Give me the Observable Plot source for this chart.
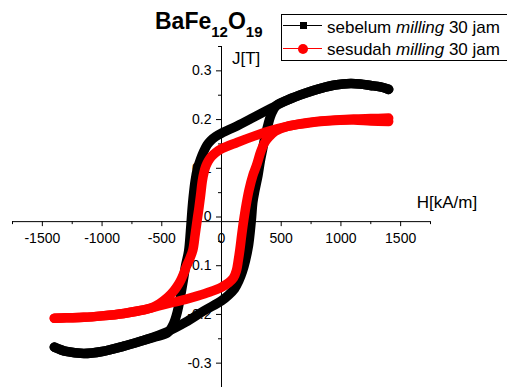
<!DOCTYPE html>
<html><head><meta charset="utf-8">
<script src="https://cdn.jsdelivr.net/npm/d3@7"></script>
<script src="https://cdn.jsdelivr.net/npm/@observablehq/plot@0.6"></script>
<style>
html,body{margin:0;padding:0;background:#fff;}
body{width:507px;height:387px;overflow:hidden;position:relative;font-family:Arial,"Liberation Sans",sans-serif;color:#000;}
#chart{position:absolute;left:0;top:0;}
.ov{position:absolute;white-space:nowrap;font-size:17px;line-height:17px;}
#title{position:absolute;left:155px;top:9.7px;font-size:23px;line-height:22px;font-weight:700;white-space:nowrap;}
#title span{font-size:15px;position:relative;top:8px;}
#legend{position:absolute;left:281px;top:14px;width:240px;height:47px;box-sizing:border-box;border:1px solid #000;background:#fff;}
.lline{position:absolute;height:1px;}
</style></head><body>
<div id="chart"></div>
<div id="title">BaFe<span>12</span>O<span>19</span></div>
<div id="legend"></div>
<div class="lline" style="left:283px;top:24.5px;width:39px;background:#000"></div>
<div style="position:absolute;left:299.5px;top:21.5px;width:7px;height:7px;background:#000"></div>
<div class="lline" style="left:283px;top:48px;width:39px;background:#f00"></div>
<div style="position:absolute;left:298px;top:43.5px;width:10px;height:10px;border-radius:50%;background:#f00"></div>
<div class="ov" id="leg1" style="left:327px;top:18.9px"></div>
<div class="ov" id="leg2" style="left:327px;top:40.6px"></div>
<div class="ov" id="ylab" style="left:232px;top:49.6px"></div>
<div class="ov" id="xlab" style="left:416.7px;top:193.9px"></div>
<script>
// ---- data ----
const seriesNames = ["sebelum", "sesudah"];
const legendWord = "milling";
const legendTail = "30 jam";
const xAxisLabel = "H[kA/m]";
const yAxisLabel = "J[T]";

const xMajor = [-1500, -1000, -500, 0, 500, 1000, 1500];
const xTickLabels = ["-1500", "-1000", "-500", "0", "500", "1000", "1500"];
const xMinor = [-1750, -1250, -750, -250, 250, 750, 1250, 1750];
const yMajor = [0.3, 0.2, 0.1, 0, -0.1, -0.2, -0.3];
const yTickLabels = ["0.3", "0.2", "0.1", "0", "-0.1", "-0.2", "-0.3"];
const yMinor = [0.35, 0.25, 0.15, 0.05, -0.05, -0.15, -0.25, -0.35];
const xAxisCrossJ = -0.0095;

// sebelum milling (black): descending branch
const blackDescH = [1400, 1330, 1248, 1160, 1081, 950, 830, 700, 551, 420, 272, 130, 0, -50, -90, -120, -150, -175, -200, -220, -235, -248, -260, -275, -300, -320, -345, -370, -400, -450, -550, -650, -818, -1000, -1153, -1300, -1400];
const blackDescJ = [0.262, 0.267, 0.270, 0.273, 0.274, 0.271, 0.264, 0.254, 0.240, 0.224, 0.205, 0.187, 0.172, 0.165, 0.157, 0.148, 0.134, 0.119, 0.100, 0.075, 0.045, 0.010, -0.030, -0.070, -0.099, -0.130, -0.165, -0.195, -0.218, -0.237, -0.246, -0.253, -0.265, -0.276, -0.280, -0.276, -0.267];
// sebelum milling (black): ascending branch
const blackAscH = [-1400, -1300, -1153, -1000, -818, -650, -450, -300, -150, 0, 60, 110, 145, 175, 200, 225, 240, 252, 262, 280, 305, 325, 345, 365, 390, 420, 460, 551, 700, 830, 950, 1081, 1160, 1248, 1330, 1400];
const blackAscJ = [-0.267, -0.276, -0.280, -0.276, -0.265, -0.253, -0.235, -0.216, -0.193, -0.172, -0.160, -0.147, -0.131, -0.112, -0.090, -0.060, -0.030, 0.000, 0.030, 0.055, 0.085, 0.115, 0.140, 0.165, 0.190, 0.213, 0.229, 0.240, 0.254, 0.264, 0.271, 0.274, 0.273, 0.270, 0.267, 0.262];

// sesudah milling (red): descending branch
const redDescH = [1400, 1250, 1107, 950, 830, 700, 551, 420, 272, 130, 0, -50, -85, -110, -130, -145, -160, -175, -188, -200, -220, -240, -265, -292, -318, -342, -370, -400, -450, -520, -593, -700, -818, -1000, -1153, -1300, -1400];
const redDescJ = [0.203, 0.202, 0.201, 0.199, 0.197, 0.193, 0.186, 0.178, 0.166, 0.153, 0.140, 0.132, 0.124, 0.115, 0.105, 0.093, 0.075, 0.045, 0.020, 0.000, -0.035, -0.068, -0.085, -0.100, -0.117, -0.130, -0.142, -0.152, -0.165, -0.178, -0.187, -0.193, -0.198, -0.203, -0.206, -0.207, -0.208];
// sesudah milling (red): ascending branch
const redAscH = [-1400, -1300, -1153, -1000, -818, -700, -593, -500, -400, -300, -200, -100, 0, 60, 100, 125, 140, 155, 170, 190, 210, 230, 262, 292, 330, 360, 400, 450, 551, 700, 830, 950, 1107, 1250, 1400];
const redAscJ = [-0.208, -0.207, -0.206, -0.203, -0.198, -0.193, -0.187, -0.181, -0.175, -0.169, -0.162, -0.154, -0.144, -0.135, -0.125, -0.110, -0.090, -0.065, -0.035, 0.000, 0.030, 0.055, 0.085, 0.105, 0.135, 0.152, 0.165, 0.176, 0.186, 0.192, 0.196, 0.198, 0.199, 0.197, 0.196];

// ---- build ----
const toRows = (hs, js) => hs.map((h, i) => ({H: h, J: js[i]}));
const lineOpts = (color) => ({x: "H", y: "J", stroke: color, strokeWidth: 9.5, curve: "catmull-rom", strokeLinejoin: "round", strokeLinecap: "round"});

const chart = Plot.plot({
  width: 507, height: 387,
  marginLeft: 12, marginRight: 77, marginTop: 46, marginBottom: 0,
  x: {domain: [-1750, 1750], axis: null},
  y: {domain: [-0.35, 0.35], axis: null},
  style: {fontFamily: "Arial, 'Liberation Sans', sans-serif", background: "transparent", overflow: "visible", color: "#000"},
  marks: [
    Plot.ruleY([xAxisCrossJ], {stroke: "#000", strokeWidth: 1}),
    Plot.ruleX([0], {stroke: "#000", strokeWidth: 1}),
    Plot.ruleX(xMajor, {x: d => d, y1: xAxisCrossJ, y2: xAxisCrossJ, insetTop: 0, insetBottom: -5, stroke: "#000"}),
    Plot.ruleX(xMinor, {x: d => d, y1: xAxisCrossJ, y2: xAxisCrossJ, insetTop: 0, insetBottom: -3, stroke: "#000"}),
    Plot.ruleY(yMajor, {y: d => d, x1: 0, x2: 0, insetLeft: -5, insetRight: 0, stroke: "#000"}),
    Plot.ruleY(yMinor, {y: d => d, x1: 0, x2: 0, insetLeft: -3, insetRight: 0, stroke: "#000"}),
    Plot.text(xMajor, {x: d => d, y: xAxisCrossJ, text: (d, i) => xTickLabels[i], dy: 16.5, fontSize: 14, textAnchor: "middle", fill: "#000"}),
    Plot.text(yMajor, {x: 0, y: d => d, text: (d, i) => yTickLabels[i], dx: -10, fontSize: 14, textAnchor: "end", fill: "#000"}),
    Plot.line(toRows(blackDescH, blackDescJ), lineOpts("#000")),
    Plot.line(toRows(blackAscH, blackAscJ), lineOpts("#000")),
    Plot.line(toRows(redDescH, redDescJ), lineOpts("#ff0000")),
    Plot.line(toRows(redAscH, redAscJ), lineOpts("#ff0000"))
  ]
});
document.getElementById("chart").appendChild(chart);
document.getElementById("leg1").innerHTML = seriesNames[0] + " <i>" + legendWord + "</i> " + legendTail;
document.getElementById("leg2").innerHTML = seriesNames[1] + " <i>" + legendWord + "</i> " + legendTail;
document.getElementById("ylab").textContent = yAxisLabel;
document.getElementById("xlab").textContent = xAxisLabel;
</script>
</body></html>
